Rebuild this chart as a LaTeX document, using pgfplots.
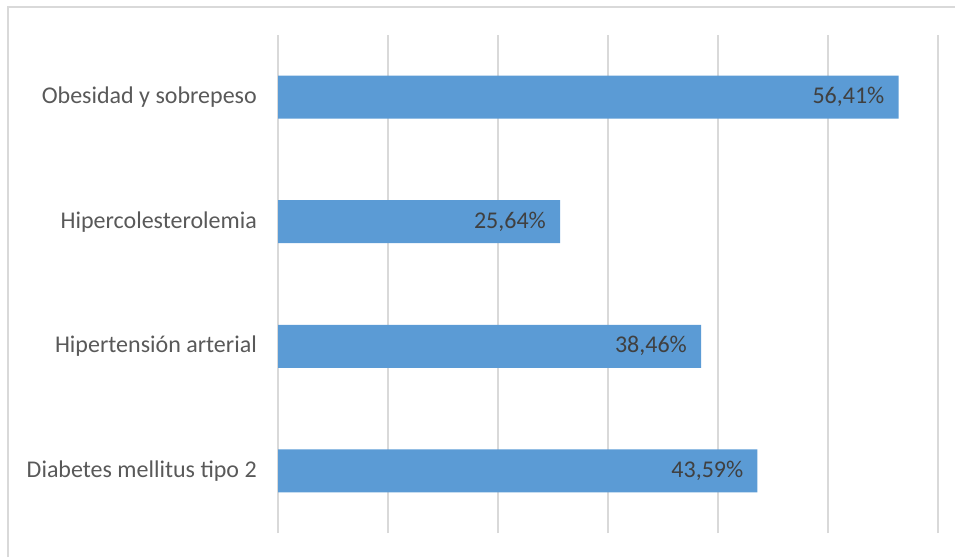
\documentclass[border=0pt]{standalone}
\usepackage{pgfplots}
\pgfplotsset{compat=1.18}
\usepackage{fontspec}
\setmainfont{Carlito}
\definecolor{barblue}{HTML}{5B9BD5}
\definecolor{gridgray}{HTML}{D9D9D9}
\definecolor{labelgray}{HTML}{595959}
\definecolor{valgray}{HTML}{404040}
\begin{document}
\begin{tikzpicture}
\path[use as bounding box] (0,0) rectangle (955pt,557pt);
\draw[gridgray, line width=1.5pt] (8pt,0) -- (8pt,550pt) -- (955pt,550pt);
\begin{axis}[
  at={(278pt,24pt)}, anchor=south west,
  scale only axis, width=660pt, height=498pt,
  xbar, bar width=43pt,
  xmin=0, xmax=60, ymin=-0.5, ymax=3.5,
  xtick={0,10,...,60}, xticklabels={},
  xmajorgrids, major grid style={gridgray, line width=1.5pt},
  major tick length=0pt,
  axis line style={draw=none},
  ytick={0,1,2,3},
  yticklabels={Diabetes mellitus tipo 2, Hipertensión arterial, Hipercolesterolemia, Obesidad y sobrepeso},
  yticklabel style={font=\fontsize{24}{28}\selectfont, text=labelgray, anchor=east, inner sep=0pt, xshift=-21pt},
  /pgf/number format/assume math mode=true,
  nodes near coords={\pgfmathprintnumber[fixed,fixed zerofill,precision=2,use comma]{\pgfplotspointmeta}\%},
  every node near coord/.append style={anchor=east, xshift=-14pt, inner sep=0pt, font=\fontsize{24}{28}\selectfont, text=valgray},
]
\addplot[fill=barblue, draw=none] coordinates {(43.59,0) (38.46,1) (25.64,2) (56.41,3)};
\end{axis}
\end{tikzpicture}
\end{document}
